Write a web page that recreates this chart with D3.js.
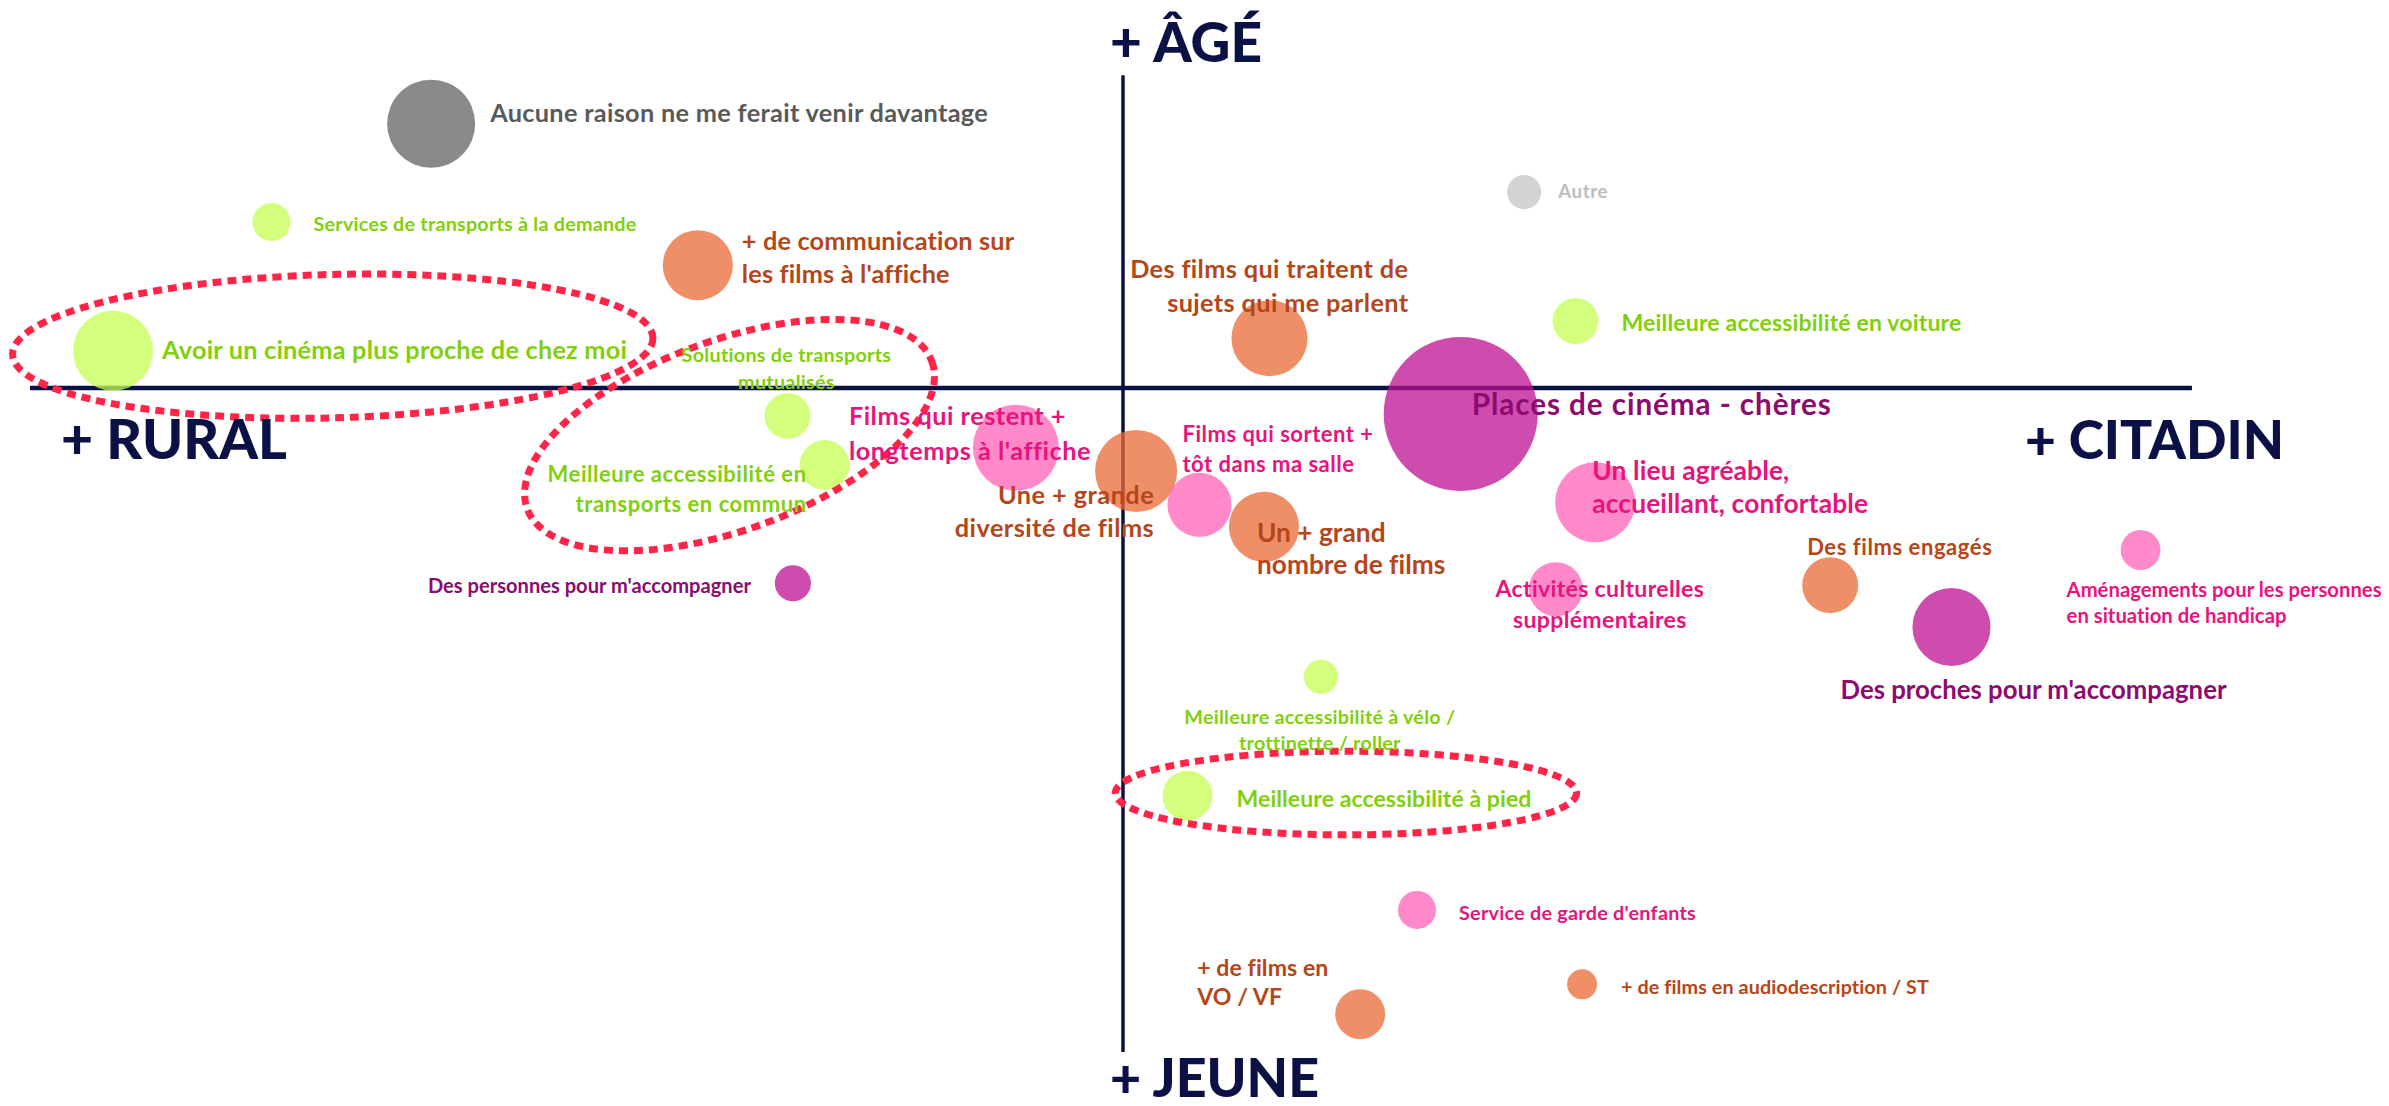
<!DOCTYPE html>
<html>
<head>
<meta charset="utf-8">
<script src="https://cdn.jsdelivr.net/npm/d3@7"></script>
<style>
  html, body { margin: 0; padding: 0; background: #fff; }
  svg { display: block; font-family: Lato, 'Open Sans', sans-serif; font-weight: 700; }
</style>
</head>
<body>
<div id="graph"></div>
<script>
// attentes des répondants : x = rural -> citadin, y = jeune -> âgé, taille = nb de réponses
const labels = [
  'Aucune raison ne me ferait venir davantage',
  'Services de transports à la demande',
  "+ de communication sur\nles films à l'affiche",
  'Avoir un cinéma plus proche de chez moi',
  'Solutions de transports\nmutualisés',
  'Meilleure accessibilité en\ntransports en commun',
  "Films qui restent +\nlongtemps à l'affiche",
  'Une + grande\ndiversité de films',
  'Films qui sortent +\ntôt dans ma salle',
  'Un + grand\nnombre de films',
  'Des films qui traitent de\nsujets qui me parlent',
  'Places de cinéma - chères',
  'Autre',
  'Meilleure accessibilité en voiture',
  'Un lieu agréable,\naccueillant, confortable',
  'Activités culturelles\nsupplémentaires',
  'Des films engagés',
  'Aménagements pour les personnes\nen situation de handicap',
  "Des proches pour m'accompagner",
  "Des personnes pour m'accompagner",
  'Meilleure accessibilité à vélo /\ntrottinette / roller',
  'Meilleure accessibilité à pied',
  "Service de garde d'enfants",
  '+ de films en\nVO / VF',
  '+ de films en audiodescription / ST'
];
const xValues = [-63.3, -77.9, -38.9, -92.4, -30.7, -27.3, -9.8, 1.2, 7.0, 12.9, 13.4, 30.9, 36.7, 41.4, 43.2, 39.6, 64.7, 93.1, 75.8, -30.2, 18.1, 5.9, 26.9, 21.7, 42.0];
const yValues = [39.8, 25.0, 18.5, 5.6, -4.2, -11.6, -9.0, -12.5, -17.6, -20.9, 7.5, -3.9, 29.5, 10.1, -17.2, -30.3, -29.7, -24.4, -36.0, -29.4, -43.5, -61.4, -78.6, -94.3, -89.8];
const sizeValues = [32.7, 6.1, 20.7, 27.0, 8.9, 10.5, 31.2, 28.4, 17.3, 20.7, 24.4, 100, 4.9, 8.9, 27.0, 12.3, 13.2, 6.7, 25.7, 5.5, 4.9, 10.5, 6.1, 10.5, 3.8];
const groups = ['aucune', 'mobilite', 'films', 'mobilite', 'mobilite', 'mobilite', 'lieu', 'films', 'lieu', 'films', 'films', 'accomp', 'autre', 'mobilite', 'lieu', 'lieu', 'films', 'lieu', 'accomp', 'accomp', 'mobilite', 'mobilite', 'lieu', 'films', 'films'];

const axisLabels = { left: '+ RURAL', right: '+ CITADIN', top: '+ ÂGÉ', bottom: '+ JEUNE' };

// zones entourées (centre en unités du graphique)
const highlights = [
  { x: -72.3, y: 6.3, rx: 29.3, ry: 10.8, angle: -1.5 },
  { x: -36.0, y: -7.1, rx: 19.7, ry: 14.3, angle: -20 },
  { x: 20.4, y: -61.0, rx: 21.1, ry: 6.3, angle: 0 }
];

// placement des étiquettes par rapport à la bulle (w = largeur de la ligne la plus longue)
const labelLayout = [
  { dx: 59, dy: -2, anchor: 'start', fs: 23, w: 498 },
  { dx: 42, dy: 9, anchor: 'start', fs: 18, w: 323 },
  { dx: 44, dy: -15, anchor: 'start', fs: 23, lh: 33, w: 273 },
  { dx: 49, dy: 8, anchor: 'start', fs: 23, w: 465 },
  { dx: -1, dy: -54, anchor: 'middle', fs: 18, lh: 27, w: 210 },
  { dx: -18, dy: 17, anchor: 'end', fs: 20, lh: 30, w: 259 },
  { dx: -167, dy: -23, anchor: 'start', fs: 23, lh: 35, w: 241 },
  { dx: 18, dy: 33, anchor: 'end', fs: 23, lh: 33, w: 199 },
  { dx: -17, dy: -63, anchor: 'start', fs: 20, lh: 30, w: 191 },
  { dx: -7, dy: 15, anchor: 'start', fs: 24, lh: 32, w: 188 },
  { dx: 139, dy: -60, anchor: 'end', fs: 23, lh: 34, w: 278 },
  { dx: 11, dy: 1, anchor: 'start', fs: 27, w: 360 },
  { dx: 34, dy: 6, anchor: 'start', fs: 17, w: 50 },
  { dx: 46, dy: 10, anchor: 'start', fs: 21, w: 340 },
  { dx: -3, dy: -22, anchor: 'start', fs: 24, lh: 33, w: 276 },
  { dx: 44, dy: 8, anchor: 'middle', fs: 21, lh: 31, w: 209 },
  { dx: -23, dy: -30, anchor: 'start', fs: 20, w: 185 },
  { dx: -74, dy: 47, anchor: 'start', fs: 19, lh: 26, w: 315 },
  { dx: -111, dy: 72, anchor: 'start', fs: 25, w: 386 },
  { dx: -42, dy: 10, anchor: 'end', fs: 19, w: 323 },
  { dx: -1, dy: 47, anchor: 'middle', fs: 18, lh: 26, w: 271 },
  { dx: 49, dy: 11, anchor: 'start', fs: 21, w: 295 },
  { dx: 42, dy: 10, anchor: 'start', fs: 18, w: 237 },
  { dx: -163, dy: -38, anchor: 'start', fs: 21, lh: 29, w: 131 },
  { dx: 39, dy: 10, anchor: 'start', fs: 18, w: 308 }
];

const palette = {
  aucune:   { fill: '#636363', text: '#5a5a5a' },
  autre:    { fill: '#c6c6c6', text: '#bdbdbd' },
  mobilite: { fill: '#c4ff52', text: '#82cf0c' },
  films:    { fill: '#ea6a34', text: '#b5461a' },
  lieu:     { fill: '#ff62b7', text: '#e8137b' },
  accomp:   { fill: '#bf1094', text: '#8c0b6f' }
};

drawGraph();

// ajuste taille puis espacement pour tenir dans la largeur voulue
function fitText(text, fs, w) {
  const spans = text.selectAll('tspan').nodes();
  const nodes = spans.length ? spans : [text.node()];
  const len = () => d3.max(nodes, (n) => n.getComputedTextLength());

  const k = Math.max(0.85, Math.min(1.1, w / len()));
  text.attr('font-size', fs * k);

  const widest = nodes[d3.maxIndex(nodes, (n) => n.getComputedTextLength())];
  const chars = widest.textContent.length;
  text.attr('letter-spacing', (w - len()) / chars);
}

function drawGraph() {
  const width = 2389, height = 1106, navy = '#0b1045';

  const svg = d3.select('#graph')
    .append('svg')
      .attr('width', width)
      .attr('height', height);

  const x = d3.scaleLinear().domain([-100, 100]).range([30, 2216]);
  const y = d3.scaleLinear().domain([-100, 100]).range([1052, -276]);
  const r = d3.scaleSqrt().domain([0, 100]).range([0, 77]);

  // axes
  svg.append('line')
    .attr('x1', x(-100)).attr('x2', x(97.8))
    .attr('y1', y(0)).attr('y2', y(0))
    .attr('stroke', navy).attr('stroke-width', 4.5);
  svg.append('line')
    .attr('x1', x(0)).attr('x2', x(0))
    .attr('y1', y(47.1)).attr('y2', y(-100))
    .attr('stroke', navy).attr('stroke-width', 3.5);

  const points = labels.map((label, i) => ({
    label, x: xValues[i], y: yValues[i], size: sizeValues[i], group: groups[i], layout: labelLayout[i]
  }));

  svg.selectAll('circle.bubble')
    .data(points)
    .enter()
      .append('circle')
      .classed('bubble', true)
      .attr('cx', (d) => x(d.x))
      .attr('cy', (d) => y(d.y))
      .attr('r', (d) => r(d.size))
      .attr('fill', (d) => palette[d.group].fill)
      .attr('fill-opacity', 0.75);

  const kx = x(1) - x(0), ky = y(0) - y(1);
  svg.selectAll('ellipse')
    .data(highlights)
    .enter()
      .append('ellipse')
      .attr('cx', 0).attr('cy', 0)
      .attr('rx', (d) => d.rx * kx)
      .attr('ry', (d) => d.ry * ky)
      .attr('transform', (d) => `translate(${x(d.x)},${y(d.y)}) rotate(${d.angle})`)
      .attr('fill', 'none')
      .attr('stroke', '#ff2448')
      .attr('stroke-width', 7)
      .attr('stroke-dasharray', '9 6');

  const texts = svg.selectAll('text.label')
    .data(points)
    .enter()
      .append('text')
      .classed('label', true)
      .attr('x', (d) => x(d.x) + d.layout.dx)
      .attr('y', (d) => y(d.y) + d.layout.dy)
      .attr('text-anchor', (d) => d.layout.anchor)
      .attr('font-size', (d) => d.layout.fs)
      .attr('fill', (d) => palette[d.group].text);

  texts.each(function (d) {
    const lines = d.label.split('\n');
    d3.select(this).selectAll('tspan')
      .data(lines)
      .enter()
        .append('tspan')
        .attr('x', x(d.x) + d.layout.dx)
        .attr('dy', (l, j) => j === 0 ? 0 : d.layout.lh)
        .text((l) => l);
    fitText(d3.select(this), d.layout.fs, d.layout.w);
  });

  // libellés des axes
  const axisFont = 52;
  const axisText = (label, px, py, w) => {
    const t = svg.append('text').text(label)
      .attr('x', px).attr('y', py)
      .attr('font-size', axisFont)
      .attr('font-weight', 900)
      .attr('fill', navy);
    fitText(t, axisFont, w);
  };
  axisText(axisLabels.left, 61, y(0) + 71, 226);
  axisText(axisLabels.right, 2025, y(0) + 71, 259);
  axisText(axisLabels.top, 1110, y(47.1) - 13, 152);
  axisText(axisLabels.bottom, 1110, y(-100) + 45, 209);
}
</script>
</body>
</html>
